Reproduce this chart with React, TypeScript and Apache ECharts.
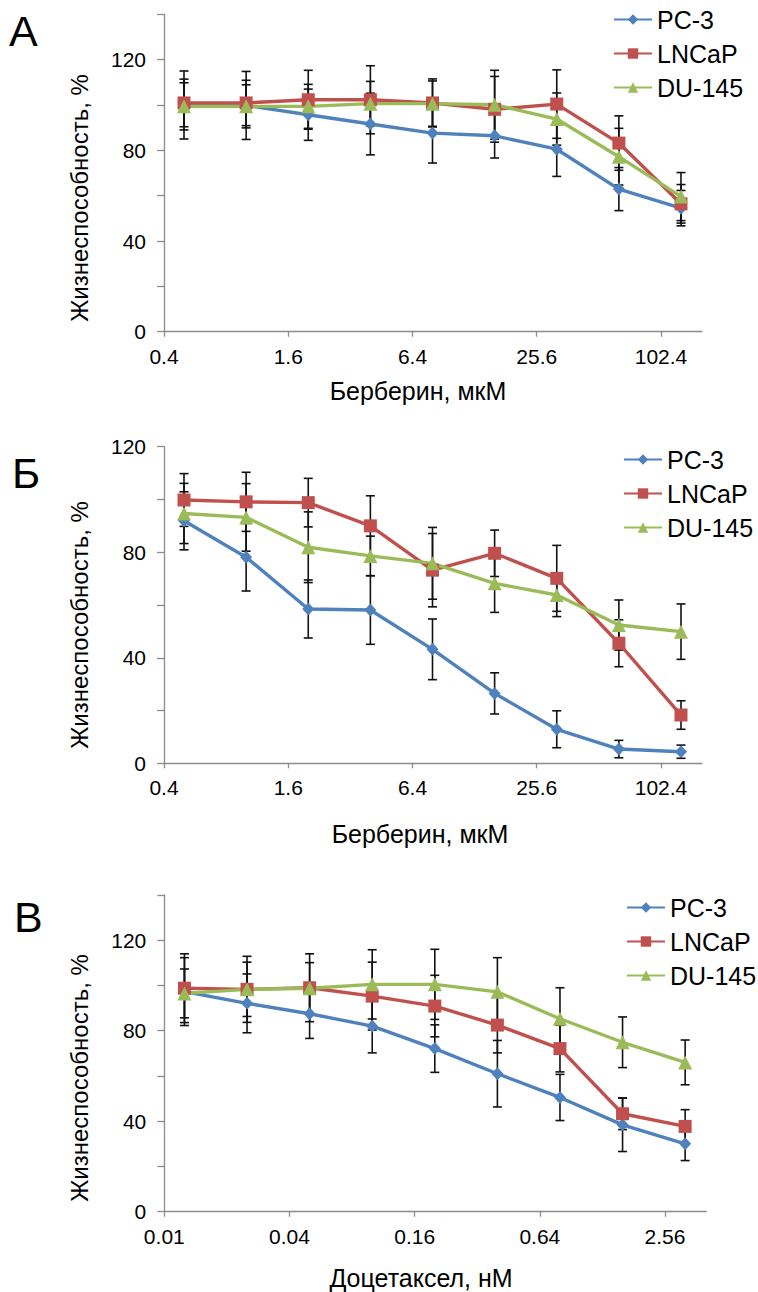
import React, { useEffect, useRef } from "react";
import * as echarts from "echarts";

// Concentrations (doubling dilutions)
const berberineConc = [0.5, 1, 2, 4, 8, 16, 32, 64, 128];
const docetaxelConc = [0.0125, 0.025, 0.05, 0.1, 0.2, 0.4, 0.8, 1.6, 3.2];
const berberineTicks = ["0.4", "1.6", "6.4", "25.6", "102.4"];
const docetaxelTicks = ["0.01", "0.04", "0.16", "0.64", "2.56"];
const berberineBase = 0.4;
const docetaxelBase = 0.01;

const seriesNames = ["PC-3", "LNCaP", "DU-145"];
const panelLetters = ["А", "Б", "В"];
const xTitles = ["Берберин, мкМ", "Берберин, мкМ", "Доцетаксел, нМ"];
const yTitle = "Жизнеспособность, %";

// Panel A (berberine)
const aPC3 = [100, 99.8, 95.7, 91.6, 87.6, 86.4, 80.5, 62.9, 54.5];
const aPC3Sd = [15, 15, 11.3, 13.6, 13.2, 9.8, 12, 9.5, 7.8];
const aLNCaP = [100.9, 100.9, 102.3, 102.3, 100.9, 98.1, 100.4, 83.2, 56.4];
const aLNCaPSd = [10.5, 10, 13, 15, 10.6, 14.5, 15.1, 12, 8.5];
const aDU145 = [99.4, 99.4, 99.4, 100.6, 100.6, 100.1, 93.8, 77.2, 59.6];
const aDU145Sd = [10.4, 9.5, 9.7, 9.8, 10, 15.2, 11.5, 12.5, 10.6];

// Panel Б (berberine)
const bPC3 = [91.9, 78.1, 58.5, 58.1, 43.2, 26.5, 12.9, 5.4, 4.4];
const bPC3Sd = [11, 12.8, 11, 13, 11.5, 7.8, 7, 3.3, 2.5];
const bLNCaP = [99.8, 99.1, 98.8, 90.0, 73.2, 79.6, 70.1, 45.5, 18.3];
const bLNCaPSd = [10, 11.2, 9.2, 11.4, 13.9, 8.8, 12.5, 8.9, 5.4];
const bDU145 = [94.7, 93.2, 81.9, 78.6, 75.8, 68.2, 63.8, 52.4, 49.9];
const bDU145Sd = [11.4, 12.8, 13.4, 7.5, 13.6, 11, 8.2, 9.5, 10.5];

// Panel В (docetaxel)
const cPC3 = [97.3, 92.1, 87.5, 82, 72.1, 61, 50.5, 38.4, 30];
const cPC3Sd = [15, 13, 10.9, 11.8, 10.5, 14.7, 10.2, 11.8, 7.4];
const cLNCaP = [98.8, 98.3, 99, 95.3, 90.9, 82.5, 72.1, 43.3, 37.7];
const cLNCaPSd = [15.2, 14.6, 15, 15, 13.6, 12.3, 10.3, 7, 7.4];
const cDU145 = [96.5, 98.3, 98.8, 100.5, 100.5, 97.2, 85.3, 74.9, 66];
const cDU145Sd = [10.8, 12, 11.3, 15.3, 15.5, 15.1, 13.7, 11.2, 9.9];

const yMaxes = [140, 120, 140];

const colors = ["#4F81BD", "#C0504D", "#9BBB59"];
const symbols = ["diamond", "rect", "triangle"];
const symbolSizes: any[] = [[12, 13], 13, 14];

const FONT = "'Liberation Sans', Arial, sans-serif";

const grids = [
  { left: 164, top: 14.3, width: 538, height: 317.4 },
  { left: 164, top: 446.7, width: 538, height: 316.6 },
  { left: 164.3, top: 895, width: 542, height: 316.7 },
];
const legendPos = [
  { left: 608, top: 2 },
  { left: 618, top: 442 },
  { left: 621, top: 890 },
];
const letterPos = [
  { x: 9, y: 31 },
  { x: 12, y: 473 },
  { x: 14, y: 917 },
];
const yTitleY = [198, 625, 1078];
const xTitlePos = [
  { x: 418, y: 391 },
  { x: 420, y: 834 },
  { x: 421, y: 1278 },
];

function buildOption() {
  const panels = [
    { conc: berberineConc, base: berberineBase, ticks: berberineTicks, vals: [aPC3, aLNCaP, aDU145], sds: [aPC3Sd, aLNCaPSd, aDU145Sd] },
    { conc: berberineConc, base: berberineBase, ticks: berberineTicks, vals: [bPC3, bLNCaP, bDU145], sds: [bPC3Sd, bLNCaPSd, bDU145Sd] },
    { conc: docetaxelConc, base: docetaxelBase, ticks: docetaxelTicks, vals: [cPC3, cLNCaP, cDU145], sds: [cPC3Sd, cLNCaPSd, cDU145Sd] },
  ];
  const series: any[] = [];
  const xAxis: any[] = [];
  const yAxis: any[] = [];
  const legend: any[] = [];
  const graphic: any[] = [];

  panels.forEach((p, pi) => {
    xAxis.push({
      type: "value",
      gridIndex: pi,
      min: 0,
      max: 8.66,
      axisLine: { show: true, lineStyle: { color: "#8c8c8c", width: 1.3 } },
      axisTick: { show: true, length: 5, lineStyle: { color: "#8c8c8c", width: 1.3 }, customValues: [0, 2, 4, 6, 8] },
      axisLabel: {
        customValues: [0, 2, 4, 6, 8],
        formatter: (v: number) => p.ticks[Math.round(v / 2)] ?? "",
        color: "#000",
        fontSize: 21,
        fontFamily: FONT,
        margin: 14,
      },
      splitLine: { show: false },
    });
    const ymax = yMaxes[pi];
    const yTicks: number[] = [];
    for (let v = 0; v <= ymax; v += 20) yTicks.push(v);
    yAxis.push({
      type: "value",
      gridIndex: pi,
      min: 0,
      max: ymax,
      interval: 20,
      axisLine: { show: true, lineStyle: { color: "#8c8c8c", width: 1.3 } },
      axisTick: { show: true, length: 7, lineStyle: { color: "#8c8c8c", width: 1.3 }, customValues: yTicks },
      axisLabel: {
        customValues: [0, 40, 80, 120],
        formatter: (v: number) => String(v),
        color: "#000",
        fontSize: 21,
        fontFamily: FONT,
        margin: 18,
      },
      splitLine: { show: false },
    });
    // error bars
    p.vals.forEach((vals, si) => {
      series.push({
        type: "custom",
        name: "err-" + pi + "-" + si,
        xAxisIndex: pi,
        yAxisIndex: pi,
        z: 1,
        silent: true,
        encode: { x: 0, y: [1, 2] },
        data: vals.map((v, i) => [Math.log2(p.conc[i] / p.base), v - p.sds[si][i], v + p.sds[si][i]]),
        renderItem: (params: any, api: any) => {
          const x = api.value(0);
          const top = api.coord([x, api.value(2)]);
          const bot = api.coord([x, api.value(1)]);
          const w = 4.5;
          const st = { stroke: "#111", lineWidth: 1.6 };
          return {
            type: "group",
            children: [
              { type: "line", shape: { x1: top[0], y1: top[1], x2: bot[0], y2: bot[1] }, style: st },
              { type: "line", shape: { x1: top[0] - w, y1: top[1], x2: top[0] + w, y2: top[1] }, style: st },
              { type: "line", shape: { x1: bot[0] - w, y1: bot[1], x2: bot[0] + w, y2: bot[1] }, style: st },
            ],
          };
        },
      });
    });
    p.vals.forEach((vals, si) => {
      series.push({
        type: "line",
        name: seriesNames[si],
        xAxisIndex: pi,
        yAxisIndex: pi,
        z: 3,
        data: vals.map((v, i) => [Math.log2(p.conc[i] / p.base), v]),
        symbol: symbols[si],
        symbolSize: symbolSizes[si],
        showAllSymbol: true,
        lineStyle: { color: colors[si], width: 3.4 },
        itemStyle: { color: colors[si], borderWidth: 0 },
        emphasis: { disabled: true },
      });
    });
    legend.push({
      data: seriesNames,
      orient: "vertical",
      left: legendPos[pi].left,
      top: legendPos[pi].top,
      itemWidth: 38,
      itemHeight: 13,
      itemGap: 9,
      selectedMode: false,
      textStyle: { fontSize: 25, fontFamily: FONT, color: "#000" },
    });
    graphic.push({
      type: "text",
      x: letterPos[pi].x,
      y: letterPos[pi].y,
      style: { text: panelLetters[pi], fontSize: 43, fontFamily: FONT, fill: "#000", textAlign: "left", textVerticalAlign: "middle" },
    });
    graphic.push({
      type: "text",
      x: 79,
      y: yTitleY[pi],
      rotation: Math.PI / 2,
      style: { text: yTitle, fontSize: 24, fontFamily: FONT, fill: "#000", textAlign: "center", textVerticalAlign: "middle" },
    });
    graphic.push({
      type: "text",
      x: xTitlePos[pi].x,
      y: xTitlePos[pi].y,
      style: { text: xTitles[pi], fontSize: 25, fontFamily: FONT, fill: "#000", textAlign: "center", textVerticalAlign: "middle" },
    });
  });

  return {
    animation: false,
    backgroundColor: "#ffffff",
    grid: grids,
    xAxis,
    yAxis,
    legend,
    series,
    graphic,
  };
}

export default function App() {
  const ref = useRef<HTMLDivElement>(null);
  useEffect(() => {
    if (!ref.current) return;
    const chart = echarts.init(ref.current, null, { renderer: "svg" });
    chart.setOption(buildOption() as any);
    return () => chart.dispose();
  }, []);
  return (
    <div
      ref={ref}
      style={{ position: "absolute", left: 0, top: 0, width: 758, height: 1292, background: "#fff" }}
    />
  );
}
